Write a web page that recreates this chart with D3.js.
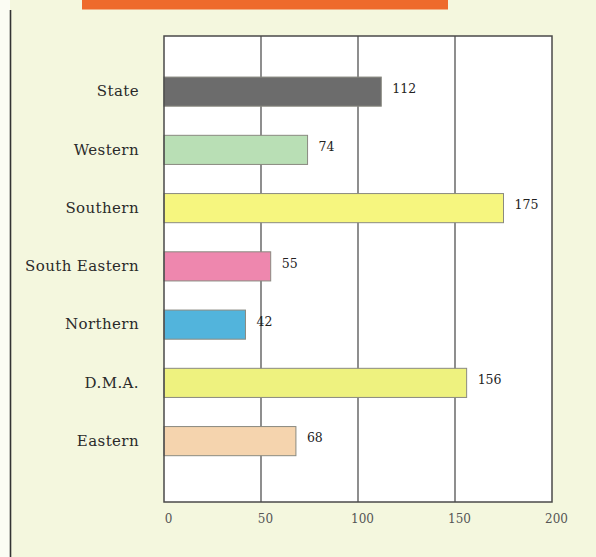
<!DOCTYPE html>
<html>
<head>
<meta charset="utf-8">
<script src="https://cdn.jsdelivr.net/npm/d3@7"></script>
<style>
  html, body { margin: 0; padding: 0; background: #f4f7de; }
  svg { display: block; }
</style>
</head>
<body>
<script>
// Regions, top to bottom, with their rates and bar colours
const categories = ["State", "Western", "Southern", "South Eastern", "Northern", "D.M.A.", "Eastern"];
const values = [112, 74, 175, 55, 42, 156, 68];
const barColors = ["#6c6c6c", "#b9dfb5", "#f6f67f", "#ee87ae", "#52b4dc", "#eef27f", "#f5d4ae"];
const tickValues = [0, 50, 100, 150, 200];

const W = 596, H = 557;
const plot = { left: 164, right: 552, top: 36, bottom: 502 };

const svg = d3.select("body").append("svg")
  .attr("width", W).attr("height", H);

// page background
svg.append("rect").attr("width", W).attr("height", H).attr("fill", "#f4f7de");
svg.append("rect").attr("x", 0).attr("y", 0).attr("width", 10).attr("height", H).attr("fill", "#fbfcf3");

// orange heading band along the top edge
svg.append("rect")
  .attr("x", 82).attr("y", 0).attr("width", 366).attr("height", 9.5)
  .attr("fill", "#ee6a2c");

// left margin rule
svg.append("line")
  .attr("x1", 10.5).attr("x2", 10.5).attr("y1", 10).attr("y2", H)
  .attr("stroke", "#333").attr("stroke-width", 1.6);

const x = d3.scaleLinear().domain([0, 200]).range([plot.left, plot.right]);
const y = d3.scaleBand().domain(categories)
  .range([plot.top, plot.bottom])
  .paddingInner(0.5).paddingOuter(0.75).align(0.47);

// white plotting area
svg.append("rect")
  .attr("x", plot.left).attr("y", plot.top)
  .attr("width", plot.right - plot.left).attr("height", plot.bottom - plot.top)
  .attr("fill", "#ffffff");

// vertical gridlines
svg.append("g").selectAll("line")
  .data(tickValues.slice(1, -1))
  .join("line")
  .attr("x1", d => x(d)).attr("x2", d => x(d))
  .attr("y1", plot.top).attr("y2", plot.bottom)
  .attr("stroke", "#444").attr("stroke-width", 1.2);

// bars
svg.append("g").selectAll("rect")
  .data(categories)
  .join("rect")
  .attr("x", x(0))
  .attr("y", d => y(d))
  .attr("width", (d, i) => x(values[i]) - x(0))
  .attr("height", y.bandwidth())
  .attr("fill", (d, i) => barColors[i])
  .attr("stroke", "#8a8a80").attr("stroke-width", 1);

// plot frame
svg.append("rect")
  .attr("x", plot.left).attr("y", plot.top)
  .attr("width", plot.right - plot.left).attr("height", plot.bottom - plot.top)
  .attr("fill", "none").attr("stroke", "#4a4a4a").attr("stroke-width", 1.5);

// value labels at bar ends
svg.append("g").selectAll("text")
  .data(categories)
  .join("text")
  .attr("x", (d, i) => x(values[i]) + 11)
  .attr("y", d => y(d) + y.bandwidth() / 2)
  .attr("dy", "0.1em")
  .attr("font-family", "DejaVu Serif, serif")
  .attr("font-size", 12.5)
  .attr("fill", "#222")
  .text((d, i) => values[i]);

// category axis
const yAxis = d3.axisLeft(y).tickSize(0).tickPadding(0);
const gy = svg.append("g")
  .attr("transform", `translate(${plot.left - 25},0)`)
  .call(yAxis);
gy.select(".domain").remove();
gy.selectAll("text")
  .attr("font-family", "DejaVu Serif, serif")
  .attr("font-size", 15)
  .attr("letter-spacing", 0.4)
  .attr("fill", "#2a2a2a");

// value axis
const xAxis = d3.axisBottom(x).tickValues(tickValues).tickSize(0).tickPadding(12);
const gx = svg.append("g")
  .attr("transform", `translate(4,${plot.bottom})`)
  .call(xAxis);
gx.select(".domain").remove();
gx.selectAll("text")
  .attr("font-family", "DejaVu Serif, serif")
  .attr("font-size", 12)
  .attr("fill", "#555");
</script>
</body>
</html>
